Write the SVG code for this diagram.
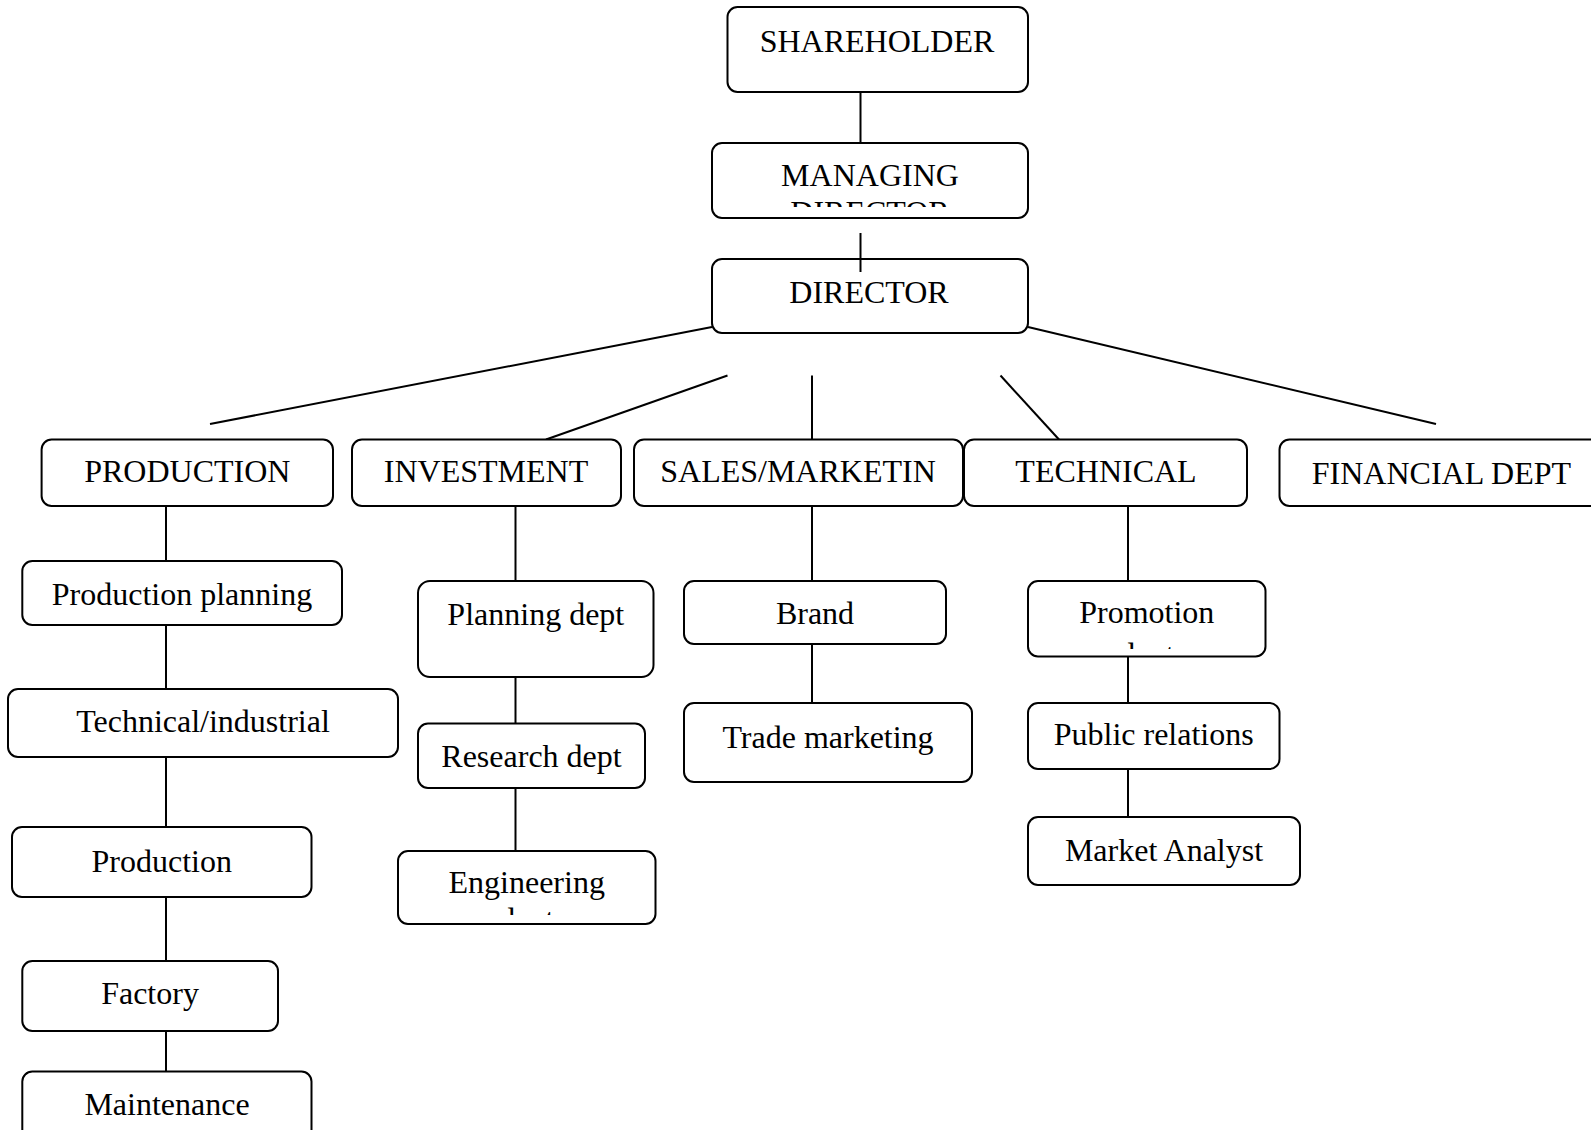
<svg xmlns="http://www.w3.org/2000/svg" width="1591" height="1130" viewBox="0 0 1591 1130">
<style>
.box{fill:#fff;stroke:#000;stroke-width:2}
.t{font-family:"Liberation Serif","Times New Roman",serif;font-size:32px;fill:#000;text-anchor:middle}
.c{stroke:#000;stroke-width:2;fill:none}
</style>
<defs>
<clipPath id="clipMD"><rect x="712" y="143" width="316" height="64"/></clipPath>
<clipPath id="clipEng"><rect x="398" y="851" width="258" height="64"/></clipPath>
<clipPath id="clipPromo"><rect x="1028" y="581" width="238" height="68"/></clipPath>
</defs>
<rect width="1591" height="1130" fill="#fff"/>
<g id="connectors">
<line class="c" x1="860.5" y1="92" x2="860.5" y2="143"/>
<line class="c" x1="712" y1="327" x2="210" y2="424"/>
<line class="c" x1="727.5" y1="375.5" x2="546" y2="439.5"/>
<line class="c" x1="812" y1="375.5" x2="812" y2="439.5"/>
<line class="c" x1="1000.5" y1="375.5" x2="1059" y2="439.5"/>
<line class="c" x1="1028" y1="327" x2="1436" y2="424"/>
<line class="c" x1="166" y1="506" x2="166" y2="561"/>
<line class="c" x1="166" y1="625" x2="166" y2="689"/>
<line class="c" x1="166" y1="757" x2="166" y2="827"/>
<line class="c" x1="166" y1="897" x2="166" y2="961"/>
<line class="c" x1="166" y1="1031" x2="166" y2="1071.5"/>
<line class="c" x1="515.5" y1="506" x2="515.5" y2="581"/>
<line class="c" x1="515.5" y1="677" x2="515.5" y2="723.5"/>
<line class="c" x1="515.5" y1="788" x2="515.5" y2="851"/>
<line class="c" x1="812" y1="506" x2="812" y2="581"/>
<line class="c" x1="812" y1="644" x2="812" y2="703"/>
<line class="c" x1="1128" y1="506" x2="1128" y2="581"/>
<line class="c" x1="1128" y1="656.5" x2="1128" y2="703"/>
<line class="c" x1="1128" y1="769" x2="1128" y2="817"/>
</g>
<g id="shareholder"><rect class="box" x="727.5" y="7" width="300.5" height="85" rx="10"/><text class="t" x="877" y="52">SHAREHOLDER</text></g>
<g id="managing-director"><rect class="box" x="712" y="143" width="316" height="75" rx="10"/><g clip-path="url(#clipMD)"><text class="t" x="870" y="186">MANAGING</text><text class="t" x="870" y="223">DIRECTOR</text></g></g>
<g id="director"><rect class="box" x="712" y="259" width="316" height="74" rx="10"/><text class="t" x="869" y="303">DIRECTOR</text></g>
<line class="c" x1="860.5" y1="233" x2="860.5" y2="272"/>
<g id="production"><rect class="box" x="41.6" y="439.5" width="291.4" height="66.5" rx="10"/><text class="t" x="187.3" y="482">PRODUCTION</text></g>
<g id="investment"><rect class="box" x="352" y="439.5" width="269" height="66.5" rx="10"/><text class="t" x="486" y="482">INVESTMENT</text></g>
<g id="sales"><rect class="box" x="634" y="439.5" width="329" height="66.5" rx="10"/><text class="t" x="798" y="482">SALES/MARKETIN</text></g>
<g id="technical"><rect class="box" x="964" y="439.5" width="283" height="66.5" rx="10"/><text class="t" x="1106" y="482">TECHNICAL</text></g>
<g id="financial"><rect class="box" x="1279.5" y="439.5" width="324" height="66.5" rx="10"/><text class="t" x="1441.4" y="484">FINANCIAL DEPT</text></g>
<g id="production-planning"><rect class="box" x="22.3" y="561" width="319.7" height="64" rx="10"/><text class="t" x="182" y="605">Production planning</text></g>
<g id="technical-industrial"><rect class="box" x="8" y="689" width="390" height="68" rx="10"/><text class="t" x="203" y="731.5">Technical/industrial</text></g>
<g id="production-sub"><rect class="box" x="12" y="827" width="299.5" height="70" rx="10"/><text class="t" x="161.7" y="871.5">Production</text></g>
<g id="factory"><rect class="box" x="22.3" y="961" width="255.7" height="70" rx="10"/><text class="t" x="150" y="1003.5">Factory</text></g>
<g id="maintenance"><rect class="box" x="22.3" y="1071.5" width="289.2" height="80" rx="10"/><text class="t" x="167" y="1115">Maintenance</text></g>
<g id="planning-dept"><rect class="box" x="418" y="581" width="235.5" height="96" rx="12"/><text class="t" x="535.8" y="625">Planning dept</text></g>
<g id="research-dept"><rect class="box" x="418" y="723.5" width="227" height="64.5" rx="10"/><text class="t" x="531.5" y="767">Research dept</text></g>
<g id="engineering-dept"><rect class="box" x="398" y="851" width="257.5" height="73" rx="10"/><g clip-path="url(#clipEng)"><text class="t" x="526.7" y="893">Engineering</text><text class="t" x="526.7" y="930">dept</text></g></g>
<g id="brand"><rect class="box" x="684" y="581" width="262" height="63" rx="10"/><text class="t" x="815" y="624">Brand</text></g>
<g id="trade-marketing"><rect class="box" x="684" y="703" width="288" height="79" rx="10"/><text class="t" x="828" y="748">Trade marketing</text></g>
<g id="promotion-dept"><rect class="box" x="1028" y="581" width="237.5" height="75.5" rx="10"/><g clip-path="url(#clipPromo)"><text class="t" x="1146.8" y="623">Promotion</text><text class="t" x="1146.8" y="665">dept</text></g></g>
<g id="public-relations"><rect class="box" x="1028" y="703" width="251.5" height="66" rx="10"/><text class="t" x="1153.7" y="745">Public relations</text></g>
<g id="market-analyst"><rect class="box" x="1028" y="817" width="272" height="68" rx="10"/><text class="t" x="1164" y="860.5">Market Analyst</text></g>
</svg>
